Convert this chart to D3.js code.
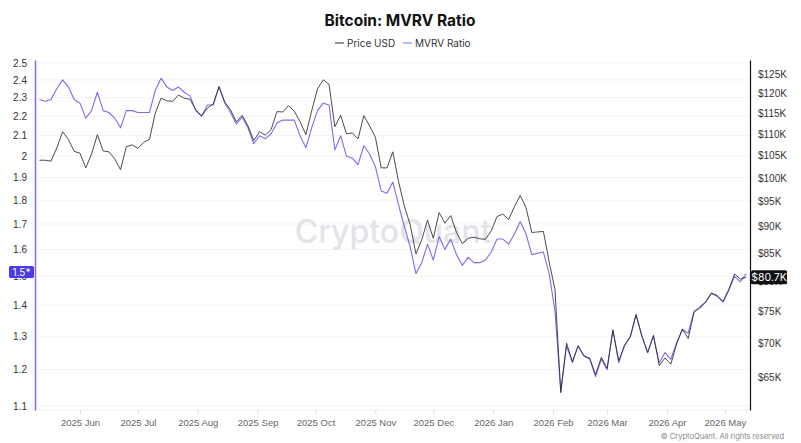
<!DOCTYPE html>
<html>
<head>
<meta charset="utf-8">
<script src="https://cdn.jsdelivr.net/npm/d3@7"></script>
<style>
  html, body { margin: 0; padding: 0; background: #fff; }
  svg { display: block; font-family: Inter, "Noto Sans", sans-serif; }
</style>
</head>
<body>
<svg id="chart" width="801" height="443"></svg>
<script>
// data, one point every 3 days
var startDate = '2025-05-11',
    stepDays = 3;

var mvrv = [
    2.29, 2.28, 2.29, 2.35, 2.40, 2.36, 2.29, 2.27, 2.19, 2.23,
    2.33, 2.23, 2.22, 2.19, 2.14, 2.23, 2.23, 2.22, 2.22, 2.22,
    2.34, 2.41, 2.36, 2.34, 2.36, 2.33, 2.31, 2.23, 2.20, 2.26,
    2.26, 2.36, 2.27, 2.22, 2.16, 2.195, 2.14, 2.06, 2.10, 2.085,
    2.11, 2.165, 2.18, 2.18, 2.18, 2.10, 2.04, 2.14, 2.23, 2.27,
    2.26, 2.03, 2.10, 2.00, 1.99, 1.96, 2.05, 2.01, 1.95, 1.84,
    1.83, 1.88, 1.78, 1.69, 1.61, 1.51, 1.55, 1.62, 1.56, 1.65,
    1.60, 1.64, 1.58, 1.54, 1.57, 1.55, 1.55, 1.56, 1.59, 1.64,
    1.64, 1.62, 1.66, 1.71, 1.66, 1.58, 1.585, 1.59, 1.51, 1.38,
    1.14, 1.27, 1.22, 1.27, 1.24, 1.23, 1.18, 1.23, 1.20, 1.32,
    1.22, 1.27, 1.30, 1.37, 1.30, 1.25, 1.30, 1.22, 1.25, 1.23,
    1.28, 1.32, 1.31, 1.38, 1.39, 1.41, 1.44, 1.43, 1.41, 1.45,
    1.50, 1.48, 1.51
];

// price in thousand USD
var priceK = [
    103.9, 103.9, 103.7, 106.7, 110.5, 108.7, 105.9, 105.5, 102.2, 105.3,
    109.8, 106.0, 105.8, 104.2, 101.8, 107.0, 107.4, 106.6, 108.0, 108.7,
    115.0, 118.8, 118.1, 118.0, 119.6, 118.8, 118.5, 115.8, 114.3, 116.3,
    117.3, 121.8, 117.8, 115.8, 112.9, 114.5, 111.9, 108.4, 110.5, 109.7,
    111.0, 115.4, 115.3, 116.9, 115.5, 112.9, 109.8, 115.6, 121.2, 123.6,
    122.4, 111.7, 114.5, 110.0, 110.2, 108.8, 114.4, 111.9, 109.2, 102.2,
    102.2, 105.8, 99.2, 94.1, 90.4, 84.9, 87.5, 91.3, 87.8, 92.8,
    90.7, 92.2, 88.9, 86.8, 87.8, 88.0, 87.7, 87.6, 89.2, 92.0,
    92.5, 91.4, 94.0, 96.3, 93.8, 88.9, 89.0, 89.1, 83.4, 78.6,
    62.9, 70.0, 67.3, 69.6, 68.1, 67.8, 65.4, 67.9, 66.3, 72.0,
    67.4, 69.7, 70.9, 74.4, 71.1, 68.6, 71.2, 66.7, 67.8, 66.9,
    69.9, 72.2, 70.7, 74.8, 75.7, 76.5, 78.0, 77.6, 76.6, 78.6,
    81.3, 80.4, 80.7
];

var monthTicks = ['2025-06-01', '2025-07-01', '2025-08-01', '2025-09-01', '2025-10-01', '2025-11-01',
    '2025-12-01', '2026-01-01', '2026-02-01', '2026-03-01', '2026-04-01', '2026-05-01'];
var ratioTicks = [1.1, 1.2, 1.3, 1.4, 1.5, 1.6, 1.7, 1.8, 1.9, 2, 2.1, 2.2, 2.3, 2.4, 2.5];
var priceTicks = [65, 70, 75, 80, 85, 90, 95, 100, 105, 110, 115, 120, 125];
var ratioLabel = '1.5*',
    priceLabel = '$80.7K';

var purple = '#7b6cf2',
    dark = '#2b2b2b';

var svg = d3.select('#chart');
var parse = d3.utcParse('%Y-%m-%d');
var t0 = parse(startDate);
var dates = mvrv.map(function (d, i) { return d3.utcDay.offset(t0, i * stepDays); });

var plotL = 35, plotR = 750, plotT = 60, plotB = 410;

var x = d3.scaleUtc()
    .domain([new Date(Date.UTC(2025, 4, 8, 17)), new Date(Date.UTC(2026, 4, 14))])
    .range([plotL, plotR]);
var yL = d3.scaleLog().domain([1.0895, 2.517]).range([plotB, plotT]);
var yR = d3.scaleLog().domain([60.6, 129.0]).range([plotB, plotT]);

// title + legend
svg.append('text')
    .attr('x', 400).attr('y', 26)
    .attr('text-anchor', 'middle')
    .attr('font-size', 15.5).attr('font-weight', 700)
    .attr('fill', '#111')
    .text('Bitcoin: MVRV Ratio');

var legend = [
    { name: 'Price USD', color: dark, x: 335 },
    { name: 'MVRV Ratio', color: purple, x: 403 }
];
var lg = svg.append('g').selectAll('g').data(legend).enter().append('g');
lg.append('line')
    .attr('x1', function (d) { return d.x; })
    .attr('x2', function (d) { return d.x + 9; })
    .attr('y1', 43).attr('y2', 43)
    .attr('stroke', function (d) { return d.color; })
    .attr('stroke-width', 1);
lg.append('text')
    .attr('x', function (d) { return d.x + 12; })
    .attr('y', 46.5)
    .attr('font-size', 10).attr('fill', '#333')
    .text(function (d) { return d.name; });

// grid
svg.append('g').selectAll('line')
    .data(ratioTicks).enter().append('line')
    .attr('x1', plotL + 3).attr('x2', plotR)
    .attr('y1', function (d) { return yL(d); })
    .attr('y2', function (d) { return yL(d); })
    .attr('stroke', '#f3f3f5');

// watermark
svg.append('text')
    .attr('x', 393).attr('y', 243)
    .attr('text-anchor', 'middle')
    .attr('font-size', 32).attr('font-weight', 500)
    .attr('fill', '#e3e3e9')
    .text('CryptoQuant');

// x axis
var xAxis = svg.append('g')
    .attr('transform', 'translate(0,' + plotB + ')')
    .call(d3.axisBottom(x)
        .tickValues(monthTicks.map(parse))
        .tickSize(5).tickSizeOuter(0).tickPadding(4)
        .tickFormat(d3.utcFormat('%Y %b')));
xAxis.select('.domain').attr('stroke', '#ececec').attr('d', 'M' + (plotL + 3) + ',0H' + plotR);
xAxis.selectAll('.tick line').attr('stroke', '#e0e0e0');
xAxis.selectAll('text').attr('font-size', 9.5).attr('fill', '#666').attr('font-family', null);

// left axis
var lAxis = svg.append('g')
    .attr('transform', 'translate(' + plotL + ',0)')
    .call(d3.axisLeft(yL)
        .tickValues(ratioTicks).tickSize(0).tickPadding(8)
        .tickFormat(function (d) { return String(+d.toFixed(1)); }));
lAxis.select('.domain').attr('stroke', purple).attr('stroke-width', 1.5);
lAxis.selectAll('text').attr('font-size', 10).attr('fill', '#333').attr('font-family', null);

// right axis
var rAxis = svg.append('g')
    .attr('transform', 'translate(' + plotR + ',0)')
    .call(d3.axisRight(yR)
        .tickValues(priceTicks).tickSize(0).tickPadding(8)
        .tickFormat(function (d) { return '$' + d + 'K'; }));
rAxis.select('.domain').attr('stroke', '#111').attr('stroke-width', 1.2);
rAxis.selectAll('text').attr('font-size', 10).attr('fill', '#333').attr('font-family', null);

// lines
var ratioLine = d3.line()
    .x(function (d, i) { return x(dates[i]); })
    .y(function (d) { return yL(d); });
var priceLine = d3.line()
    .x(function (d, i) { return x(dates[i]); })
    .y(function (d) { return yR(d); });

svg.append('path').datum(mvrv)
    .attr('d', ratioLine)
    .attr('fill', 'none')
    .attr('stroke', purple).attr('stroke-width', 1.1)
    .attr('stroke-linejoin', 'round');
svg.append('path').datum(priceK)
    .attr('d', priceLine)
    .attr('fill', 'none')
    .attr('stroke', dark).attr('stroke-opacity', 0.85).attr('stroke-width', 1)
    .attr('stroke-linejoin', 'round');

// last value boxes
var yl = yL(mvrv[mvrv.length - 1]) - 1.5;
svg.append('rect')
    .attr('x', 9).attr('y', yl - 6).attr('width', 25).attr('height', 12)
    .attr('rx', 1.5)
    .attr('fill', '#4a3be6');
svg.append('text')
    .attr('x', 21.5).attr('y', yl + 3.8)
    .attr('text-anchor', 'middle')
    .attr('font-size', 10).attr('fill', '#fff')
    .text(ratioLabel);

var yr = yR(priceK[priceK.length - 1]);
svg.append('rect')
    .attr('x', 751).attr('y', yr - 7).attr('width', 36).attr('height', 14)
    .attr('rx', 1.5)
    .attr('fill', '#111');
svg.append('text')
    .attr('x', 769).attr('y', yr + 3.8)
    .attr('text-anchor', 'middle')
    .attr('font-size', 10.5).attr('fill', '#fff')
    .text(priceLabel);

// footer
svg.append('text')
    .attr('x', 784).attr('y', 439)
    .attr('text-anchor', 'end')
    .attr('font-size', 7.5).attr('fill', '#888')
    .text('\u00a9 CryptoQuant. All rights reserved');
</script>
</body>
</html>
